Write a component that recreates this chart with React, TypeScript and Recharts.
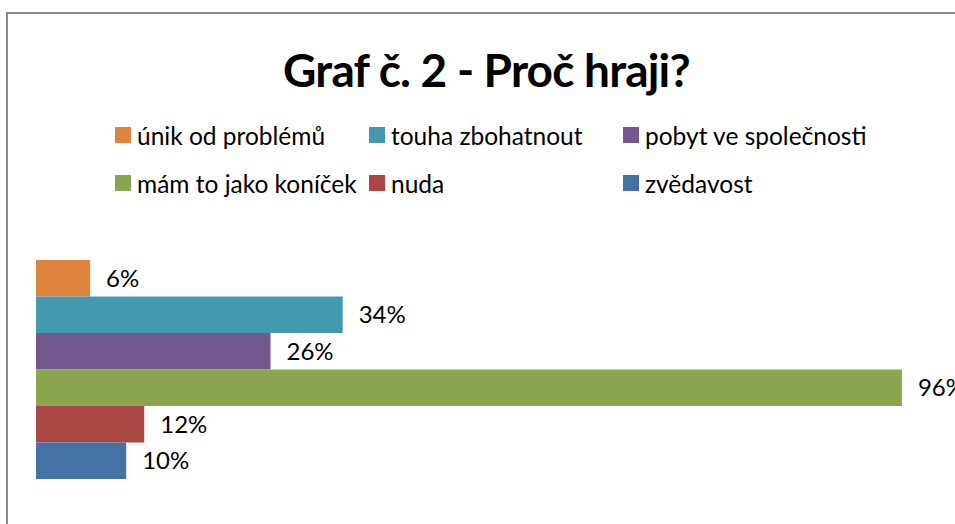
import React from 'react';
import { BarChart, Bar, XAxis, YAxis, LabelList } from 'recharts';

const categories = ['Proč hraji'];
const seriesNames = [
  'únik od problémů',
  'touha zbohatnout',
  'pobyt ve společnosti',
  'mám to jako koníček',
  'nuda',
  'zvědavost',
];
const seriesValues = [0.06, 0.34, 0.26, 0.96, 0.12, 0.1];
const seriesColors = ['#DE843F', '#4299B0', '#72588E', '#8AA54D', '#AA4643', '#4472A6'];

// legend is a 3-column grid, same order as the series
const legendCols = [115, 369, 623];
const legendRows = [135, 183];

const FONT = 'Lato, "Open Sans", sans-serif';

const data = categories.map((name) => {
  const row: Record<string, string | number> = { name };
  seriesNames.forEach((s, i) => {
    row[`s${i}`] = seriesValues[i];
  });
  return row;
});

const pct = (v: unknown) => `${Math.round(Number(v) * 100)}%`;

export default function App() {
  return (
    <div style={{ position: 'absolute', left: 0, top: 0, width: 955, height: 524, overflow: 'hidden', background: '#fff', fontFamily: FONT }}>
      <div
        style={{
          position: 'absolute',
          left: 6,
          top: 12,
          width: 1000,
          height: 600,
          border: '2px solid #8a8a8a',
          boxSizing: 'border-box',
        }}
      />
      <div
        style={{
          position: 'absolute',
          left: 0,
          width: 973,
          top: 40,
          textAlign: 'center',
          fontWeight: 700,
          fontSize: 46,
          letterSpacing: -0.8,
          lineHeight: '60px',
          color: '#000',
        }}
      >
        Graf č. 2 - Proč hraji?
      </div>
      {seriesNames.map((s, i) => {
        const col = legendCols[i % 3];
        const rowY = legendRows[Math.floor(i / 3)];
        return (
          <div key={s} style={{ position: 'absolute', left: col, top: rowY - 15, height: 30, display: 'flex', alignItems: 'center', fontSize: 24.5, color: '#000', whiteSpace: 'nowrap' }}>
            <span style={{ display: 'inline-block', width: 16, height: 16, background: seriesColors[i], marginRight: 6 }} />
            {s}
          </div>
        );
      })}
      <BarChart
        layout="vertical"
        width={955}
        height={524}
        data={data}
        margin={{ top: 230, right: 17, bottom: 15, left: 36 }}
        barGap={0}
        barSize={36.5}
        style={{ position: 'absolute', left: 0, top: 0 }}
      >
        <XAxis type="number" domain={[0, 1]} hide />
        <YAxis type="category" dataKey="name" hide />
        {seriesNames.map((s, i) => (
          <Bar key={s} dataKey={`s${i}`} name={s} fill={seriesColors[i]} isAnimationActive={false}>
            <LabelList dataKey={`s${i}`} position="right" offset={16} formatter={pct} fill="#000" fontSize={24} fontFamily={FONT} />
          </Bar>
        ))}
      </BarChart>
    </div>
  );
}
